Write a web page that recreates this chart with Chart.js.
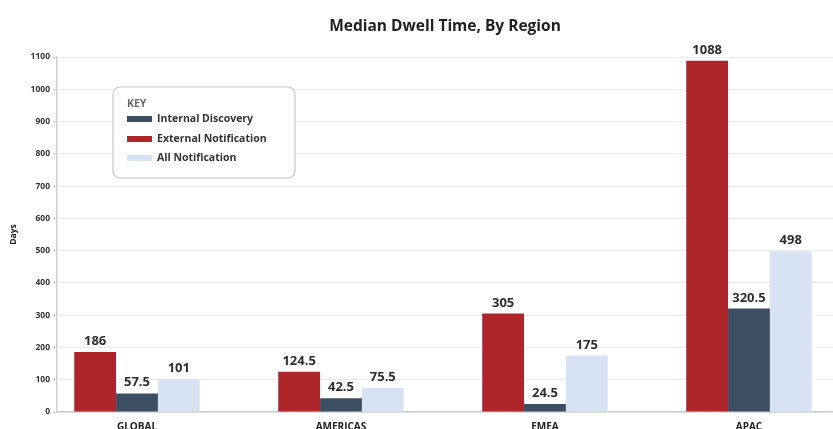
<!DOCTYPE html>
<html>
<head>
<meta charset="utf-8">
<script src="https://cdn.jsdelivr.net/npm/chart.js@4/dist/chart.umd.min.js"></script>
<style>
  html, body { margin: 0; padding: 0; background: #ffffff; }
  #wrap { width: 833px; height: 429px; position: relative; }
</style>
</head>
<body>
<div id="wrap"><canvas id="c" width="833" height="429"></canvas></div>
<script>
// Median dwell time (days) per region
const regions = ['GLOBAL', 'AMERICAS', 'EMEA', 'APAC'];
const externalNotification = [186, 124.5, 305, 1088];
const internalDiscovery = [57.5, 42.5, 24.5, 320.5];
const allNotification = [101, 75.5, 175, 498];
const yTicks = [0, 100, 200, 300, 400, 500, 600, 700, 800, 900, 1000, 1100];

const COLORS = { external: '#ae252b', internal: '#3c4e63', all: '#d7e2f3' };
const FONT = '"Open Sans", "DejaVu Sans", sans-serif';

const toPoints = vals => vals.map((v, i) => ({ x: i, y: v }));

// Title, value labels and the boxed key
const decorations = {
  id: 'decorations',
  afterDatasetsDraw(chart) {
    const ctx = chart.ctx;
    const area = chart.chartArea;
    ctx.save();

    // title
    ctx.fillStyle = '#222';
    ctx.font = 'bold 15.5px ' + FONT;
    ctx.textAlign = 'center';
    ctx.textBaseline = 'middle';
    ctx.fillText('Median Dwell Time, By Region', (area.left + area.right) / 2, 27);

    // value labels above bars
    ctx.font = 'bold 13px ' + FONT;
    ctx.fillStyle = '#2e2e2e';
    ctx.textBaseline = 'alphabetic';
    chart.data.datasets.forEach((ds, di) => {
      chart.getDatasetMeta(di).data.forEach((bar, i) => {
        ctx.fillText(String(ds.data[i].y), bar.x, bar.y - 7);
      });
    });

    // key box
    const bx = 113, by = 87, bw = 182, bh = 91, r = 7;
    ctx.beginPath();
    ctx.moveTo(bx + r, by);
    ctx.arcTo(bx + bw, by, bx + bw, by + bh, r);
    ctx.arcTo(bx + bw, by + bh, bx, by + bh, r);
    ctx.arcTo(bx, by + bh, bx, by, r);
    ctx.arcTo(bx, by, bx + bw, by, r);
    ctx.closePath();
    ctx.fillStyle = '#ffffff';
    ctx.fill();
    ctx.strokeStyle = '#c9c9c9';
    ctx.lineWidth = 1.2;
    ctx.stroke();

    ctx.textAlign = 'left';
    ctx.textBaseline = 'middle';
    ctx.fillStyle = '#6a6a6a';
    ctx.font = 'bold 10.5px ' + FONT;
    ctx.fillText('KEY', 127, 104);

    const keyOrder = [1, 0, 2];
    const rowY = [119, 139, 158];
    ctx.font = 'bold 10.5px ' + FONT;
    keyOrder.forEach((di, k) => {
      const ds = chart.data.datasets[di];
      ctx.fillStyle = ds.backgroundColor;
      ctx.fillRect(127, rowY[k] - 3, 25, 6);
      ctx.fillStyle = '#333';
      ctx.fillText(ds.label, 157, rowY[k]);
    });
    ctx.restore();
  }
};

new Chart(document.getElementById('c'), {
  type: 'bar',
  data: {
    datasets: [
      { label: 'External Notification', data: toPoints(externalNotification), backgroundColor: COLORS.external },
      { label: 'Internal Discovery', data: toPoints(internalDiscovery), backgroundColor: COLORS.internal },
      { label: 'All Notification', data: toPoints(allNotification), backgroundColor: COLORS.all }
    ]
  },
  options: {
    responsive: false,
    animation: false,
    layout: { padding: { top: 57, right: 0, left: 0, bottom: 0 } },
    datasets: { bar: { categoryPercentage: 0.615, barPercentage: 1.0 } },
    plugins: { legend: { display: false }, tooltip: { enabled: false }, title: { display: false } },
    scales: {
      x: {
        type: 'linear',
        offset: false,
        min: -0.392,
        max: 3.412,
        afterFit(scale) { scale.height = 17; },
        afterBuildTicks(scale) { scale.ticks = regions.map((_, i) => ({ value: i })); },
        grid: { display: false, drawTicks: false },
        border: { display: true, color: '#cfcfcf', width: 1.5 },
        ticks: {
          autoSkip: false,
          maxRotation: 0,
          padding: 9,
          color: '#222',
          font: { family: FONT, size: 10, weight: 'bold' },
          callback: v => regions[v] ?? ''
        }
      },
      y: {
        min: 0,
        max: 1100,
        afterFit(scale) { scale.width = 57; },
        afterBuildTicks(scale) { scale.ticks = yTicks.map(v => ({ value: v })); },
        grid: { color: '#ebebeb', lineWidth: 1, tickLength: 4, tickColor: '#cfcfcf' },
        border: { display: true, color: '#cfcfcf', width: 1.5 },
        title: {
          display: true,
          text: 'Days',
          color: '#222',
          padding: { top: 8, bottom: 0 },
          font: { family: FONT, size: 8.5, weight: 'bold' }
        },
        ticks: {
          padding: 3,
          color: '#333',
          font: { family: FONT, size: 8.5, weight: 'bold' },
          callback: v => String(v)
        }
      }
    }
  },
  plugins: [decorations]
});
</script>
</body>
</html>
